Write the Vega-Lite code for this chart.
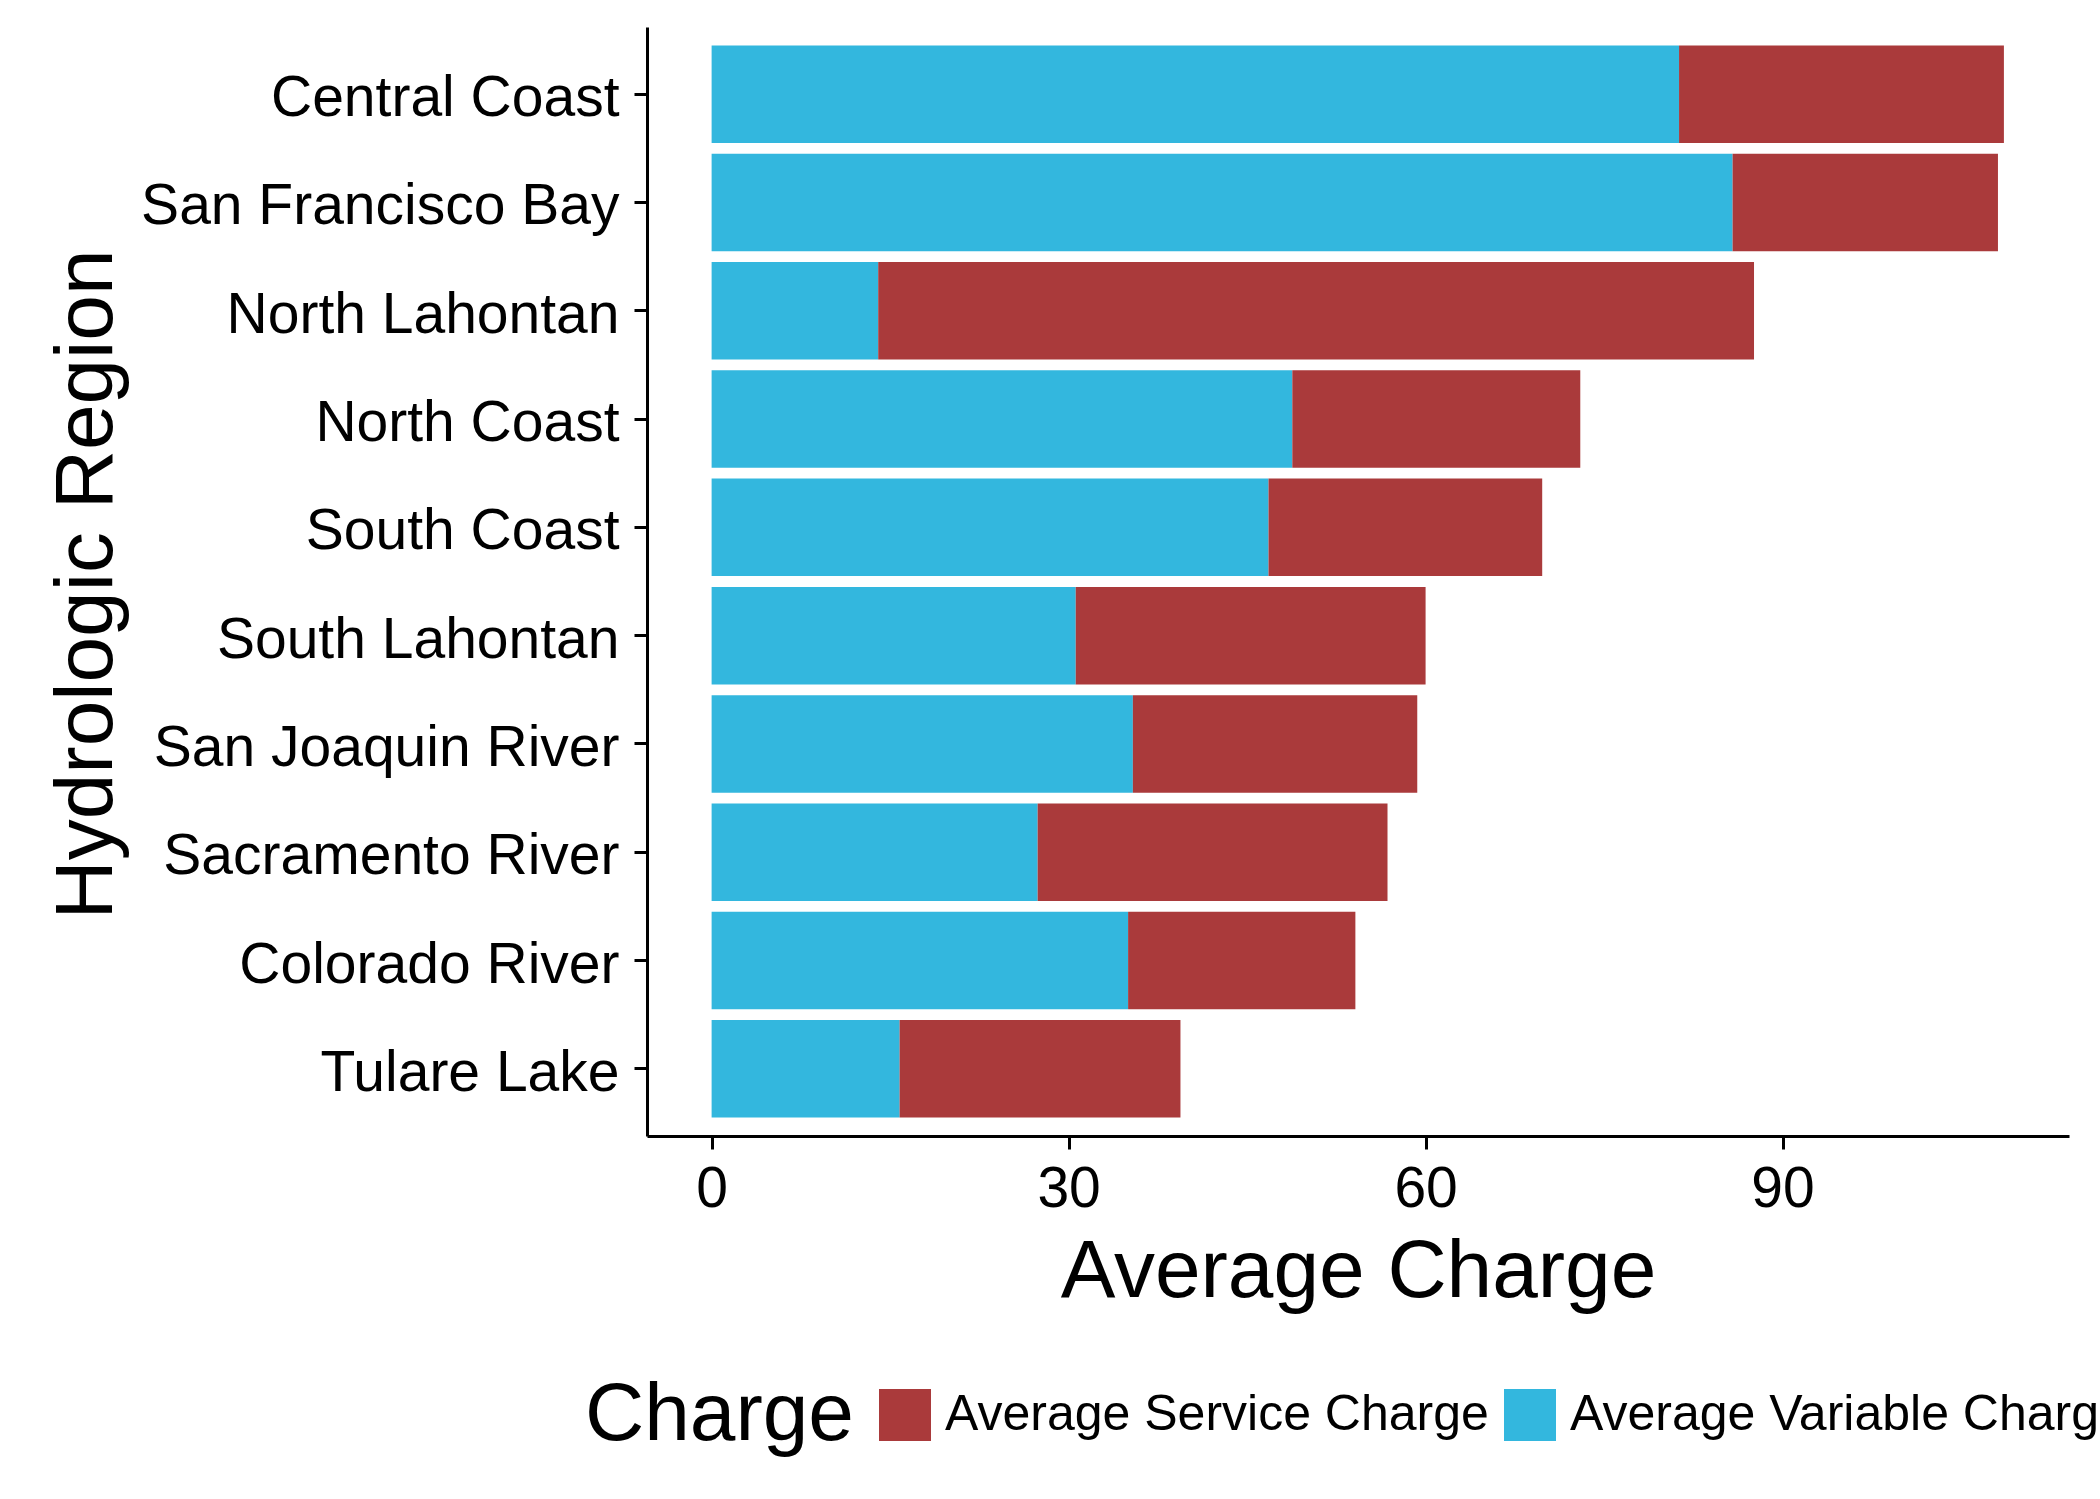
{
  "$schema": "https://vega.github.io/schema/vega-lite/v6.json",
  "width": 1422,
  "height": 1109,
  "autosize": {"type": "none"},
  "padding": {"left": 647, "top": 27, "right": 31, "bottom": 363},
  "background": "white",
  "config": {
    "view": {"stroke": null},
    "font": "Liberation Sans",
    "axis": {
      "domainColor": "black",
      "domainWidth": 3,
      "tickColor": "black",
      "tickWidth": 3,
      "tickSize": 13,
      "labelColor": "black",
      "titleColor": "black",
      "labelFont": "Liberation Sans",
      "titleFont": "Liberation Sans",
      "titleFontWeight": "normal",
      "grid": false
    }
  },
  "data": {
    "values": [
      {"region": "Central Coast", "charge": "Average Variable Charge", "value": 81.3},
      {"region": "Central Coast", "charge": "Average Service Charge", "value": 27.3},
      {"region": "San Francisco Bay", "charge": "Average Variable Charge", "value": 85.8},
      {"region": "San Francisco Bay", "charge": "Average Service Charge", "value": 22.3},
      {"region": "North Lahontan", "charge": "Average Variable Charge", "value": 14.0},
      {"region": "North Lahontan", "charge": "Average Service Charge", "value": 73.6},
      {"region": "North Coast", "charge": "Average Variable Charge", "value": 48.8},
      {"region": "North Coast", "charge": "Average Service Charge", "value": 24.2},
      {"region": "South Coast", "charge": "Average Variable Charge", "value": 46.8},
      {"region": "South Coast", "charge": "Average Service Charge", "value": 23.0},
      {"region": "South Lahontan", "charge": "Average Variable Charge", "value": 30.6},
      {"region": "South Lahontan", "charge": "Average Service Charge", "value": 29.4},
      {"region": "San Joaquin River", "charge": "Average Variable Charge", "value": 35.4},
      {"region": "San Joaquin River", "charge": "Average Service Charge", "value": 23.9},
      {"region": "Sacramento River", "charge": "Average Variable Charge", "value": 27.4},
      {"region": "Sacramento River", "charge": "Average Service Charge", "value": 29.4},
      {"region": "Colorado River", "charge": "Average Variable Charge", "value": 35.0},
      {"region": "Colorado River", "charge": "Average Service Charge", "value": 19.1},
      {"region": "Tulare Lake", "charge": "Average Variable Charge", "value": 15.8},
      {"region": "Tulare Lake", "charge": "Average Service Charge", "value": 23.6}
    ]
  },
  "mark": {"type": "bar", "strokeWidth": 0},
  "encoding": {
    "y": {
      "field": "region",
      "type": "nominal",
      "sort": ["Central Coast", "San Francisco Bay", "North Lahontan", "North Coast", "South Coast", "South Lahontan", "San Joaquin River", "Sacramento River", "Colorado River", "Tulare Lake"],
      "scale": {"paddingInner": 0.1, "paddingOuter": 0.17},
      "axis": {
        "title": "Hydrologic Region",
        "titleFontSize": 82,
        "titleX": -536,
        "titleY": 557,
        "titleAngle": 270,
        "titleAlign": "center",
        "titleBaseline": "alphabetic",
        "labelFontSize": 57,
        "labelPadding": 15,
        "labelOffset": 5,
        "labelLimit": 1000
      }
    },
    "x": {
      "field": "value",
      "type": "quantitative",
      "stack": "zero",
      "scale": {"domain": [-5.43, 114.07], "nice": false, "zero": false},
      "axis": {
        "title": "Average Charge",
        "titleFontSize": 82,
        "titleX": 711,
        "titleY": 160,
        "titleAlign": "center",
        "titleBaseline": "alphabetic",
        "values": [0, 30, 60, 90],
        "labelFontSize": 57,
        "labelPadding": 12,
        "labelFlush": false,
        "labelOverlap": false
      }
    },
    "color": {
      "field": "charge",
      "type": "nominal",
      "title": "Charge",
      "scale": {
        "domain": ["Average Service Charge", "Average Variable Charge"],
        "range": ["#AA3A3B", "#33B7DE"]
      },
      "legend": {
        "orient": "none",
        "direction": "horizontal",
        "legendX": -62,
        "legendY": 1362,
        "padding": 0,
        "titleOrient": "left",
        "titleFontSize": 82,
        "titleFontWeight": "normal",
        "titleColor": "black",
        "titlePadding": 25,
        "titleLimit": 1000,
        "titleBaseline": "middle",
        "symbolType": "square",
        "symbolSize": 2704,
        "symbolStrokeWidth": 0,
        "symbolOpacity": 1,
        "labelFontSize": 50,
        "labelColor": "black",
        "labelOffset": 14,
        "labelLimit": 2000,
        "columnPadding": 15
      }
    },
    "order": {"field": "charge", "sort": "descending"}
  }
}
